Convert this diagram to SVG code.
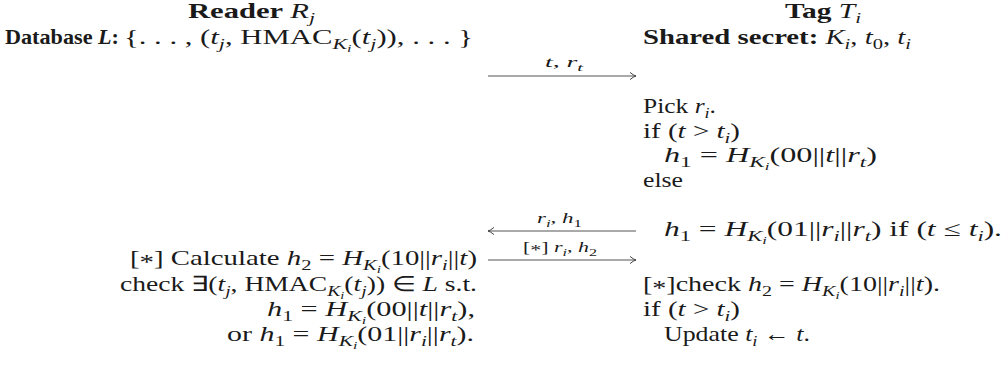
<svg xmlns="http://www.w3.org/2000/svg" width="1008" height="377" viewBox="0 0 1008 377">
<defs>
<style>
text{font-family:"Liberation Serif",serif;font-size:21px;fill:#1a1a1a}
.b{font-weight:bold}
.i{font-style:italic}
.s{font-size:15px}
.ss{font-size:11px}
.lbl{font-size:15px}
.lbl .s{font-size:11px}
.arr{stroke:#555;stroke-width:1.1;fill:none}
</style>
<marker id="tip" markerUnits="userSpaceOnUse" viewBox="-8 -5 10 10" refX="0" refY="0" markerWidth="10" markerHeight="10" orient="auto">
<path d="M-6,-3.6 Q-2.5,-0.6 0,0 Q-2.5,0.6 -6,3.6" stroke="#444" stroke-width="1" fill="none"/>
</marker>
</defs>

<g id="reader-header">
<text x="188" y="18" textLength="127" lengthAdjust="spacingAndGlyphs"><tspan class="b">Reader </tspan><tspan class="i">R</tspan><tspan class="s i" dy="5">j</tspan></text>
<text x="5" y="44" textLength="114" lengthAdjust="spacingAndGlyphs"><tspan class="b">Database </tspan><tspan class="b i">L</tspan><tspan class="b">:</tspan></text>
<text x="124" y="44" textLength="349" lengthAdjust="spacingAndGlyphs">{. . . , (<tspan class="i">t</tspan><tspan class="s i" dy="5">j</tspan><tspan dy="-5">, HMAC</tspan><tspan class="s i" dy="5">K</tspan><tspan class="ss i" dy="3">i</tspan><tspan dy="-8">(</tspan><tspan class="i">t</tspan><tspan class="s i" dy="5">j</tspan><tspan dy="-5">)), . . . }</tspan></text>
</g>

<g id="tag-header">
<text x="785" y="18" textLength="76" lengthAdjust="spacingAndGlyphs"><tspan class="b">Tag </tspan><tspan class="i">T</tspan><tspan class="s i" dy="5">i</tspan></text>
<text x="643" y="44" textLength="268" lengthAdjust="spacingAndGlyphs"><tspan class="b">Shared secret: </tspan><tspan class="i">K</tspan><tspan class="s i" dy="5">i</tspan><tspan dy="-5">, </tspan><tspan class="i">t</tspan><tspan class="s" dy="5">0</tspan><tspan dy="-5">, </tspan><tspan class="i">t</tspan><tspan class="s i" dy="5">i</tspan></text>
</g>

<g id="tag-steps">
<text x="643" y="113" textLength="73" lengthAdjust="spacingAndGlyphs">Pick <tspan class="i">r</tspan><tspan class="s i" dy="5">i</tspan><tspan dy="-5">.</tspan></text>
<text x="643" y="138" textLength="97" lengthAdjust="spacingAndGlyphs">if (<tspan class="i">t</tspan> &gt; <tspan class="i">t</tspan><tspan class="s i" dy="5">i</tspan><tspan dy="-5">)</tspan></text>
<text x="664" y="162" textLength="213" lengthAdjust="spacingAndGlyphs"><tspan class="i">h</tspan><tspan class="s" dy="5">1</tspan><tspan dy="-5"> = </tspan><tspan class="i">H</tspan><tspan class="s i" dy="5">K</tspan><tspan class="ss i" dy="3">i</tspan><tspan dy="-8">(00||</tspan><tspan class="i">t</tspan>||<tspan class="i">r</tspan><tspan class="s i" dy="5">t</tspan><tspan dy="-5">)</tspan></text>
<text x="643" y="187" textLength="40" lengthAdjust="spacingAndGlyphs">else</text>
<text x="664" y="236" textLength="338" lengthAdjust="spacingAndGlyphs"><tspan class="i">h</tspan><tspan class="s" dy="5">1</tspan><tspan dy="-5"> = </tspan><tspan class="i">H</tspan><tspan class="s i" dy="5">K</tspan><tspan class="ss i" dy="3">i</tspan><tspan dy="-8">(01||</tspan><tspan class="i">r</tspan><tspan class="s i" dy="5">i</tspan><tspan dy="-5">||</tspan><tspan class="i">r</tspan><tspan class="s i" dy="5">t</tspan><tspan dy="-5">) if (</tspan><tspan class="i">t</tspan> ≤ <tspan class="i">t</tspan><tspan class="s i" dy="5">i</tspan><tspan dy="-5">).</tspan></text>
<text x="643" y="291" textLength="297" lengthAdjust="spacingAndGlyphs">[<tspan dy="4">*</tspan><tspan dy="-4">]check </tspan><tspan class="i">h</tspan><tspan class="s" dy="5">2</tspan><tspan dy="-5"> = </tspan><tspan class="i">H</tspan><tspan class="s i" dy="5">K</tspan><tspan class="ss i" dy="3">i</tspan><tspan dy="-8">(10||</tspan><tspan class="i">r</tspan><tspan class="s i" dy="5">i</tspan><tspan dy="-5">||</tspan><tspan class="i">t</tspan>).</text>
<text x="643" y="316" textLength="97" lengthAdjust="spacingAndGlyphs">if (<tspan class="i">t</tspan> &gt; <tspan class="i">t</tspan><tspan class="s i" dy="5">i</tspan><tspan dy="-5">)</tspan></text>
<text x="664" y="341" textLength="146" lengthAdjust="spacingAndGlyphs">Update <tspan class="i">t</tspan><tspan class="s i" dy="5">i</tspan><tspan dy="-5"> ← </tspan><tspan class="i">t</tspan>.</text>
</g>

<g id="reader-steps">
<text x="130" y="265" textLength="347" lengthAdjust="spacingAndGlyphs">[<tspan dy="4">*</tspan><tspan dy="-4">] Calculate </tspan><tspan class="i">h</tspan><tspan class="s" dy="5">2</tspan><tspan dy="-5"> = </tspan><tspan class="i">H</tspan><tspan class="s i" dy="5">K</tspan><tspan class="ss i" dy="3">i</tspan><tspan dy="-8">(10||</tspan><tspan class="i">r</tspan><tspan class="s i" dy="5">i</tspan><tspan dy="-5">||</tspan><tspan class="i">t</tspan>)</text>
<text x="120" y="291" textLength="357" lengthAdjust="spacingAndGlyphs">check ∃(<tspan class="i">t</tspan><tspan class="s i" dy="5">j</tspan><tspan dy="-5">, HMAC</tspan><tspan class="s i" dy="5">K</tspan><tspan class="ss i" dy="3">i</tspan><tspan dy="-8">(</tspan><tspan class="i">t</tspan><tspan class="s i" dy="5">j</tspan><tspan dy="-5">)) ∈ </tspan><tspan class="i">L</tspan> s.t.</text>
<text x="267" y="316" textLength="208" lengthAdjust="spacingAndGlyphs"><tspan class="i">h</tspan><tspan class="s" dy="5">1</tspan><tspan dy="-5"> = </tspan><tspan class="i">H</tspan><tspan class="s i" dy="5">K</tspan><tspan class="ss i" dy="3">i</tspan><tspan dy="-8">(00||</tspan><tspan class="i">t</tspan>||<tspan class="i">r</tspan><tspan class="s i" dy="5">t</tspan><tspan dy="-5">),</tspan></text>
<text x="227" y="341" textLength="247" lengthAdjust="spacingAndGlyphs">or <tspan class="i">h</tspan><tspan class="s" dy="5">1</tspan><tspan dy="-5"> = </tspan><tspan class="i">H</tspan><tspan class="s i" dy="5">K</tspan><tspan class="ss i" dy="3">i</tspan><tspan dy="-8">(01||</tspan><tspan class="i">r</tspan><tspan class="s i" dy="5">i</tspan><tspan dy="-5">||</tspan><tspan class="i">r</tspan><tspan class="s i" dy="5">t</tspan><tspan dy="-5">).</tspan></text>
</g>

<g id="connectors">
<line class="arr" x1="488" y1="76" x2="636" y2="76" marker-end="url(#tip)"/>
<text x="545" y="67" class="lbl" textLength="38" lengthAdjust="spacingAndGlyphs"><tspan class="i">t</tspan>, <tspan class="i">r</tspan><tspan class="s i" dy="4">t</tspan></text>
<line class="arr" x1="636" y1="231" x2="488" y2="231" marker-end="url(#tip)"/>
<text x="537" y="223" class="lbl" textLength="45" lengthAdjust="spacingAndGlyphs"><tspan class="i">r</tspan><tspan class="s i" dy="4">i</tspan><tspan dy="-4">, </tspan><tspan class="i">h</tspan><tspan class="s" dy="4">1</tspan></text>
<line class="arr" x1="488" y1="260" x2="636" y2="260" marker-end="url(#tip)"/>
<text x="523" y="252" class="lbl" textLength="74" lengthAdjust="spacingAndGlyphs">[<tspan dy="3">*</tspan><tspan dy="-3">] </tspan><tspan class="i">r</tspan><tspan class="s i" dy="4">i</tspan><tspan dy="-4">, </tspan><tspan class="i">h</tspan><tspan class="s" dy="4">2</tspan></text>
</g>
</svg>
